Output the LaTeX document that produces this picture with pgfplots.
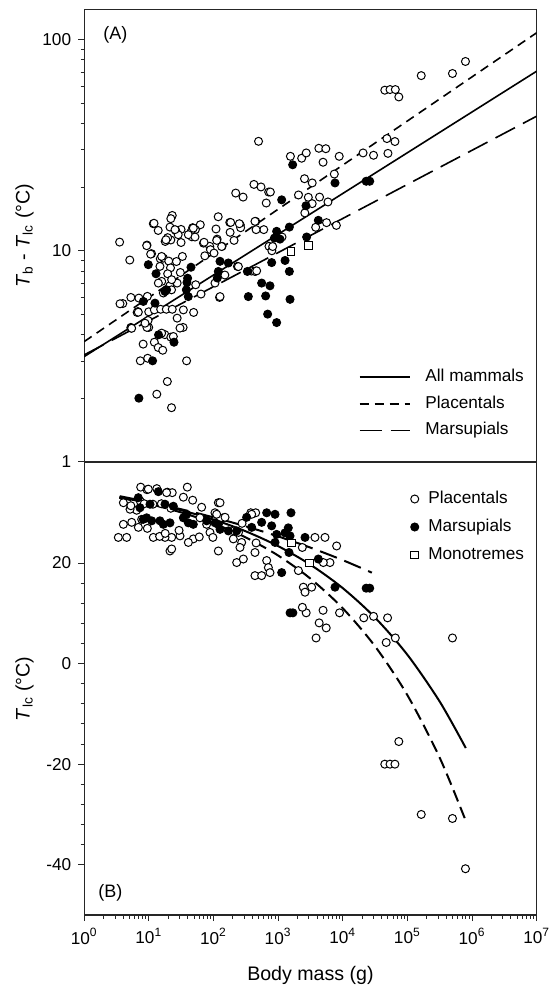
\documentclass[border=0pt]{standalone}
\usepackage{fontspec}
\setmainfont{Liberation Sans}
\usepackage{pgfplots}
\usepackage{pgfplotstable}
\pgfplotsset{compat=1.18}

% lgM = log10 of body mass (g)
% panel A: lgD = log10(Tb - Tlc); panel B: T = Tlc in deg C
\pgfplotstableread{
lgM lgD
0.548 1.041
0.705 0.956
0.971 1.027
1.042 0.986
1.069 1.128
1.145 1.096
1.362 1.167
1.340 1.152
1.498 1.101
1.416 1.096
1.454 1.076
1.498 1.039
1.340 1.051
1.253 1.044
1.291 1.062
1.519 0.973
1.177 0.962
1.226 0.965
1.308 0.951
1.172 0.926
1.335 0.919
1.291 0.891
1.487 0.897
1.427 0.949
1.796 1.123
1.677 1.109
1.720 1.100
1.650 1.088
1.666 1.066
1.845 1.036
1.942 1.021
2.056 1.055
2.132 1.021
1.866 0.976
1.953 1.005
2.008 0.989
2.073 1.161
2.252 1.134
2.257 1.087
2.415 1.122
2.420 1.109
2.653 1.139
2.778 1.100
2.659 1.100
2.344 1.273
2.458 1.254
2.626 1.314
2.735 1.302
2.854 1.278
2.880 1.278
2.816 1.226
2.697 1.518
2.859 1.021
2.903 1.000
3.060 1.065
3.190 1.447
3.364 1.438
3.435 1.463
3.630 1.485
3.738 1.483
3.695 1.419
3.945 1.447
3.869 1.363
3.408 1.341
3.527 1.321
3.315 1.264
3.467 1.253
3.527 1.223
3.641 1.254
3.771 1.231
3.413 1.179
3.749 1.133
3.901 1.120
3.581 1.111
4.314 1.463
4.476 1.452
4.683 1.531
4.807 1.517
4.699 1.461
4.650 1.760
4.731 1.763
4.813 1.763
4.867 1.728
5.214 1.829
5.697 1.839
5.898 1.896
2.371 0.926
2.588 0.904
2.653 0.904
2.176 0.885
2.094 0.779
1.807 0.795
1.693 0.708
1.530 0.637
1.725 0.839
1.199 0.855
1.324 0.834
1.351 0.815
1.438 0.847
0.597 0.750
0.722 0.779
0.846 0.776
0.977 0.784
0.830 0.712
0.998 0.711
0.988 0.670
0.998 0.637
0.722 0.637
0.971 0.637
0.819 0.708
1.085 0.720
1.183 0.723
1.270 0.723
1.362 0.723
1.438 0.681
0.727 0.634
1.248 0.603
1.340 0.591
0.912 0.558
1.085 0.567
1.145 0.542
1.215 0.529
0.868 0.479
0.982 0.491
1.584 0.479
1.286 0.381
1.123 0.321
1.351 0.257
0.967 1.024
1.028 0.984
1.080 1.130
1.198 0.973
1.265 1.052
1.327 1.112
1.405 1.100
1.611 1.076
1.688 1.107
1.714 1.065
1.854 1.040
2.039 1.103
2.050 1.049
2.127 1.020
2.266 1.134
2.318 1.049
2.400 1.128
2.642 1.139
2.916 1.020
2.642 0.902
2.668 0.905
2.385 0.925
2.023 0.847
2.101 0.783
0.554 0.749
0.837 0.709
0.941 0.657
0.734 0.633
1.198 0.610
1.379 0.594
1.482 0.634
1.534 0.720
1.224 0.800
1.147 0.847
1.353 0.863
}\topPlac

\pgfplotstableread{
lgM lgD
0.915 0.760
1.095 0.752
0.992 0.934
1.111 0.891
1.250 0.807
1.275 0.815
1.590 0.850
1.600 0.870
1.610 0.783
1.580 0.815
1.652 0.922
2.101 0.950
2.230 0.942
2.075 0.902
2.059 0.871
2.524 0.902
2.745 0.847
2.874 0.834
2.539 0.783
2.807 0.786
3.184 0.770
2.838 0.700
2.977 0.660
2.900 0.944
3.107 0.954
3.174 0.902
2.942 1.060
2.977 1.092
3.029 1.055
3.174 1.112
3.055 1.241
3.225 1.407
3.431 1.213
3.441 1.065
3.622 1.144
3.880 1.321
4.362 1.329
4.417 1.329
1.150 0.602
1.389 0.567
1.058 0.479
0.846 0.302
}\topMars

\pgfplotstableread{
lgM lgD
3.473 1.025
3.201 0.997
}\topMono

\pgfplotstableread{
lgM T
0.874 35.1
0.971 34.6
1.123 34.8
1.286 34.1
1.362 34.0
1.595 35.1
0.992 34.7
1.275 34.0
1.534 33.1
1.678 32.5
1.817 31.1
2.075 32.0
2.023 30.0
2.152 29.0
1.791 29.0
1.894 27.7
1.946 26.1
1.688 24.8
1.611 24.1
1.482 25.4
1.353 25.1
1.250 25.1
1.069 25.1
0.657 25.1
0.528 25.1
0.606 27.7
0.735 28.1
0.838 27.1
0.889 28.7
0.812 30.5
0.709 30.7
0.606 32.0
0.722 31.4
0.868 32.3
0.928 31.8
1.063 31.7
1.194 31.8
1.340 30.9
1.327 22.4
1.353 22.8
2.075 22.4
0.977 26.9
1.167 25.3
1.253 25.9
1.467 26.5
1.780 25.2
1.991 25.1
2.105 28.9
2.101 32.0
2.049 29.7
2.179 29.1
2.307 24.8
2.436 24.1
2.410 23.1
2.359 20.1
2.462 20.8
2.642 22.1
2.823 20.5
2.849 19.1
2.874 18.1
2.642 17.5
2.745 17.5
2.317 26.4
2.387 26.1
2.442 27.9
2.577 30.0
2.653 30.0
2.591 29.7
2.659 24.0
3.313 18.5
3.390 15.2
3.519 15.2
3.416 14.2
3.570 25.1
3.725 25.1
3.905 23.4
3.802 20.1
3.699 20.1
3.374 23.1
3.434 10.1
3.375 11.2
3.695 10.6
3.950 10.1
3.635 8.1
3.744 7.1
3.587 5.1
4.325 9.1
4.476 9.4
4.693 9.1
4.813 5.1
4.672 4.2
5.697 5.1
4.867 -15.5
4.650 -20.0
4.731 -20.0
4.807 -20.0
5.214 -30.0
5.697 -30.8
5.898 -40.8
}\botPlac

\pgfplotstableread{
lgM T
0.837 33.0
1.147 34.2
1.250 31.7
0.863 31.0
0.966 29.0
0.915 28.7
1.044 28.4
1.172 28.4
1.224 27.7
1.379 31.3
1.534 29.0
1.611 28.0
1.585 29.7
1.688 27.7
1.894 28.4
2.101 26.7
1.018 31.7
1.327 28.0
2.075 27.7
2.024 28.0
2.230 26.4
2.359 26.4
2.513 29.1
2.745 28.1
2.823 30.0
2.952 29.7
3.199 30.0
2.900 27.4
2.977 25.7
2.952 24.1
3.157 27.0
3.184 25.4
3.106 26.0
3.416 25.1
3.622 20.8
3.168 22.1
3.055 18.1
3.880 15.2
4.362 15.0
4.417 15.0
2.591 27.1
3.185 10.1
3.228 10.1
}\botMars

\pgfplotstableread{
lgM T
3.210 24.0
3.482 20.0
}\botMono

\pgfplotsset{
  panel/.style={
    scale only axis, width=226.25pt, height=226.25pt,
    xmin=0, xmax=7,
    axis line style={black!85, line width=0.6pt},
    tick align=outside, major tick length=3pt, minor tick length=1.8pt,
    tick style={black!85, line width=0.5pt},
    ytick pos=left,
    tick label style={font=\fontsize{8.6}{10}\selectfont},
    label style={font=\fontsize{9.8}{12}\selectfont},
    y label style={at={(axis description cs:-0.132,0.5)}, anchor=center, rotate=0},
  },
  open/.style={only marks, mark=*, mark size=2pt,
    mark options={fill=white, draw=black, line width=0.5pt}},
  full/.style={only marks, mark=*, mark size=2pt,
    mark options={fill=black, draw=black, line width=0.5pt}},
  box/.style={only marks, mark=square*, mark size=1.9pt,
    mark options={fill=white, draw=black, line width=0.5pt}},
}

\begin{document}
\begin{tikzpicture}
\useasboundingbox (-42.1pt,-35.5pt) rectangle (232.9pt,457.5pt);

% panel B
\begin{axis}[panel, at={(0pt,0pt)}, anchor=south west,
  ymin=-50, ymax=40,
  ytick={-40,-20,0,20}, yticklabels={-40,-20,0,20},
  minor y tick num=4,
  xtick={0,1,2,3,4,5,6,7},
  xticklabels={10\textsuperscript{0},10\textsuperscript{1},10\textsuperscript{2},10\textsuperscript{3},10\textsuperscript{4},10\textsuperscript{5},10\textsuperscript{6},10\textsuperscript{7}},
  minor xtick={0.301,0.477,0.602,0.699,0.778,0.845,0.903,0.954,
    1.301,1.477,1.602,1.699,1.778,1.845,1.903,1.954,
    2.301,2.477,2.602,2.699,2.778,2.845,2.903,2.954,
    3.301,3.477,3.602,3.699,3.778,3.845,3.903,3.954,
    4.301,4.477,4.602,4.699,4.778,4.845,4.903,4.954,
    5.301,5.477,5.602,5.699,5.778,5.845,5.903,5.954,
    6.301,6.477,6.602,6.699,6.778,6.845,6.903,6.954},
  xtick pos=bottom,
  xlabel={Body mass (g)},
  x label style={at={(axis description cs:0.5,-0.133)}, anchor=center},
  ylabel={\textit{T}\textsubscript{lc} (°C)},
  legend style={at={(axis description cs:0.719,0.939)}, anchor=north west,
    draw=none, fill=none, inner sep=0pt, row sep=5.5pt,
    font=\fontsize{8.6}{10}\selectfont,
    nodes={inner sep=0pt, text height=6.5pt, text depth=2pt}},
  legend cell align=left,
  legend image code/.code={\draw[#1] plot coordinates {(0pt,0pt)}; \path (-2.2pt,0pt) (6.6pt,0pt);},
]
% fitted curves
\addplot[black, line width=1pt, smooth, forget plot] coordinates {
 (0.543,33.05) (1,31.97) (1.5,30.50) (2,28.65) (2.5,26.31) (3,23.37)
 (3.5,19.67) (4,15.01) (4.5,9.14) (5,1.75) (5.5,-7.56) (5.903,-16.79)};
\addplot[black, line width=1pt, smooth, dash pattern=on 6pt off 3pt, forget plot] coordinates {
 (0.543,33.0) (1,31.77) (1.5,30.07) (2,27.89) (2.5,25.09) (3,21.50)
 (3.5,16.90) (4,11.00) (4.5,3.43) (5,-6.28) (5.5,-18.73) (5.903,-31.28)};
\addplot[black, line width=1pt, smooth, dash pattern=on 9pt off 4pt, forget plot] coordinates {
 (0.55,33.3) (1,32.13) (1.5,30.70) (2,29.09) (2.5,27.30) (3,25.30)
 (3.5,23.07) (4,20.58) (4.45,18.09)};
\addplot[open] table[x=lgM, y=T] {\botPlac};
\addlegendentry{Placentals}
\addplot[full] table[x=lgM, y=T] {\botMars};
\addlegendentry{Marsupials}
\addplot[box] table[x=lgM, y=T] {\botMono};
\addlegendentry{Monotremes}
\node[font=\fontsize{9}{11}\selectfont] at (axis description cs:0.058,0.049) {(B)};
\end{axis}

% panel A
\begin{axis}[panel, at={(0pt,226.5pt)}, anchor=south west,
  ymin=0, ymax=2.142,
  ytick={0,1,2}, yticklabels={1,10,100},
  minor ytick={0.301,0.477,0.602,0.699,0.778,0.845,0.903,0.954,
    1.301,1.477,1.602,1.699,1.778,1.845,1.903,1.954},
  xtick=\empty,
  ylabel={\textit{T}\textsubscript{b} - \textit{T}\textsubscript{lc} (°C)},
  legend style={at={(axis description cs:0.606,0.207)}, anchor=north west,
    draw=none, fill=none, inner sep=0pt, row sep=4.8pt,
    font=\fontsize{8.6}{10}\selectfont,
    nodes={inner sep=0pt, text height=6.5pt, text depth=2pt}},
  legend cell align=left,
  legend image code/.code={\draw[#1] (0pt,0pt) -- (25pt,0pt); \path (32.5pt,0pt);},
]
\addplot[black, line width=0.8pt] coordinates {(0,0.499) (7,1.850)};
\addlegendentry{All mammals}
\addplot[black, line width=0.8pt, dash pattern=on 4.5pt off 3pt] coordinates {(0,0.570) (7,2.032)};
\addlegendentry{Placentals}
\addplot[black, line width=0.8pt, dash pattern=on 11pt off 4.5pt] coordinates {(0,0.507) (7,1.637)};
\addlegendentry{Marsupials}
\addplot[open, forget plot] table[x=lgM, y=lgD] {\topPlac};
\addplot[full, forget plot] table[x=lgM, y=lgD] {\topMars};
\addplot[box, forget plot] table[x=lgM, y=lgD] {\topMono};
\node[font=\fontsize{9}{11}\selectfont] at (axis description cs:0.069,0.943) {(A)};
\end{axis}
\end{tikzpicture}
\end{document}
